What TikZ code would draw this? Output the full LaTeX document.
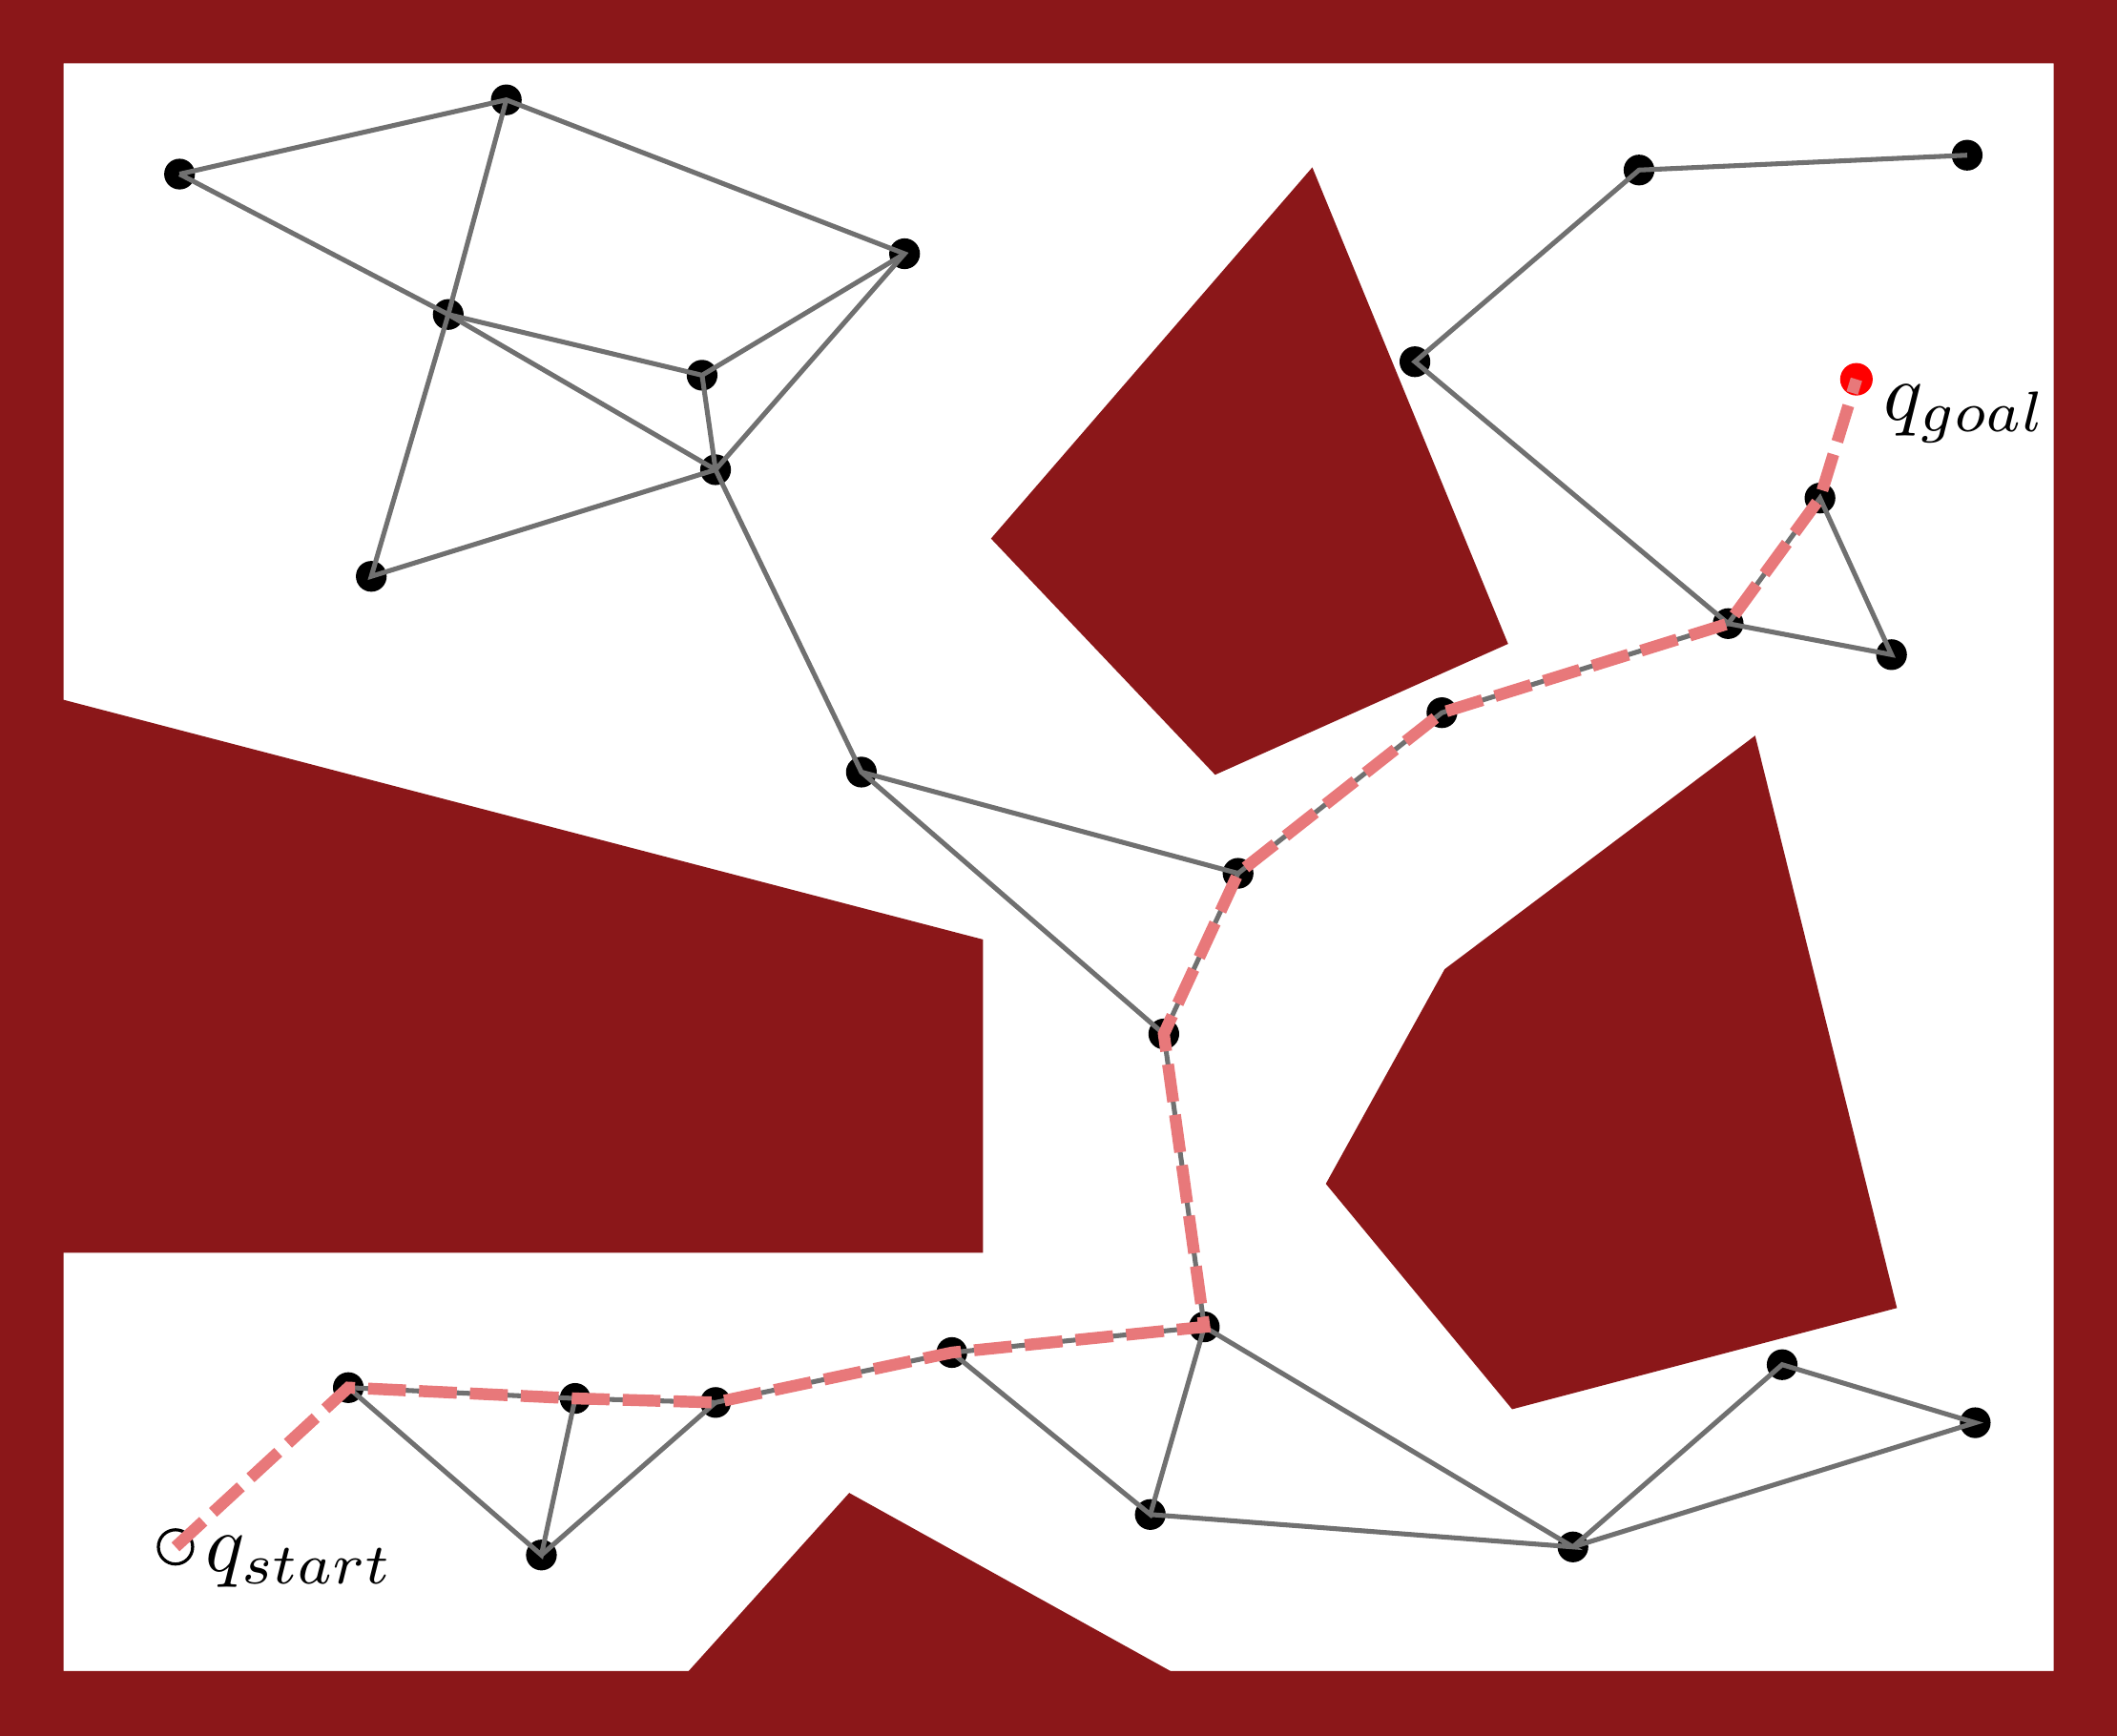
\documentclass[tikz,border=0pt]{standalone}
\usepackage{amsmath}
\usepackage{xcolor}
\usepackage{tikz}
\usetikzlibrary{positioning}

\definecolor{obsred}{RGB}{139,23,25}
\definecolor{edgegray}{RGB}{112,112,112}
\definecolor{pathred}{RGB}{232,120,122}
\definecolor{goalred}{RGB}{255,0,0}

\begin{document}
\begin{tikzpicture}[
  x=0.054mm, y=-0.054mm,
  vertex/.style={circle, fill=black, inner sep=0pt, minimum size=3.5pt},
  roadmap/.style={edgegray, line width=0.55pt},
  solution/.style={pathred, line width=1.35pt, dash pattern=on 4.3pt off 1.5pt},
  obstacle/.style={fill=obsred},
  lbl/.style={anchor=base west, inner sep=0pt, scale=0.93}
]
\useasboundingbox (0,0) rectangle (1568,1286);

% Workspace boundary and obstacles
\fill[obstacle, even odd rule] (0,0) rectangle (1568,1286) (47,47) rectangle (1521,1238);
\fill[obstacle] (972,124) -- (1117,477) -- (900,574) -- (734,399) -- cycle;
\fill[obstacle] (1300,545) -- (1405,969) -- (1120,1044) -- (982,877) -- (1070,718) -- cycle;
\fill[obstacle] (30,514) -- (728,696) -- (728,928) -- (30,928) -- cycle;
\fill[obstacle] (510,1250) -- (510,1238) -- (629,1106) -- (867,1238) -- (867,1250) -- cycle;

% Roadmap vertices
\node[vertex] (v1) at (133,129) {};
\node[vertex] (v2) at (375,74) {};
\node[vertex] (v3) at (670,188) {};
\node[vertex] (v4) at (332,233) {};
\node[vertex] (v5) at (520,278) {};
\node[vertex] (v6) at (530,348) {};
\node[vertex] (v7) at (275,427) {};
\node[vertex] (v8) at (638,572) {};
\node[vertex] (v9) at (917,647) {};
\node[vertex] (v10) at (862,766) {};
\node[vertex] (v11) at (1068,528) {};
\node[vertex] (v12) at (1280,462) {};
\node[vertex] (v13) at (1348,369) {};
\node[vertex] (v14) at (1401,485) {};
\node[vertex] (v15) at (1048,268) {};
\node[vertex] (v16) at (1214,126) {};
\node[vertex] (v17) at (1457,115) {};
\node[vertex] (v18) at (892,983) {};
\node[vertex] (v19) at (705,1002) {};
\node[vertex] (v20) at (530,1039) {};
\node[vertex] (v21) at (426,1036) {};
\node[vertex] (v22) at (258,1028) {};
\node[vertex] (v23) at (401,1152) {};
\node[vertex] (v24) at (852,1122) {};
\node[vertex] (v25) at (1165,1146) {};
\node[vertex] (v26) at (1320,1011) {};
\node[vertex] (v27) at (1463,1054) {};

% Start and goal
\node[circle, draw, line width=0.35pt, inner sep=0pt, minimum size=3.9pt] (start) at (130,1146) {};
\node[circle, fill=goalred, inner sep=0pt, minimum size=3.7pt] (goal) at (1375,281) {};

% Roadmap edges
\draw[roadmap] (v1.center) -- (v2.center) -- (v3.center) -- (v6.center) -- (v7.center) -- (v4.center) -- (v1.center);
\draw[roadmap] (v2.center) -- (v4.center) -- (v5.center) -- (v3.center);
\draw[roadmap] (v4.center) -- (v6.center) -- (v5.center);
\draw[roadmap] (v6.center) -- (v8.center) -- (v9.center) -- (v10.center) -- (v8.center);
\draw[roadmap] (v9.center) -- (v11.center) -- (v12.center) -- (v15.center) -- (v16.center) -- (v17.center);
\draw[roadmap] (v12.center) -- (v13.center) -- (v14.center) -- (v12.center);
\draw[roadmap] (v10.center) -- (v18.center) -- (v19.center) -- (v20.center) -- (v21.center) -- (v22.center) -- (v23.center) -- (v21.center);
\draw[roadmap] (v20.center) -- (v23.center);
\draw[roadmap] (v19.center) -- (v24.center) -- (v18.center) -- (v25.center) -- (v24.center);
\draw[roadmap] (v25.center) -- (v26.center) -- (v27.center) -- (v25.center);

% Solution path
\draw[solution] (start.center) -- (v22.center) -- (v21.center) -- (v20.center) -- (v19.center)
  -- (v18.center) -- (v10.center) -- (v9.center) -- (v11.center) -- (v12.center) -- (v13.center) -- (goal.center);

% Labels
\node[lbl] (startlbl) at (151,1164) {$q_{start}$};
\node[lbl] (goallbl) at (1394,311) {$q_{goal}$};

\end{tikzpicture}
\end{document}
